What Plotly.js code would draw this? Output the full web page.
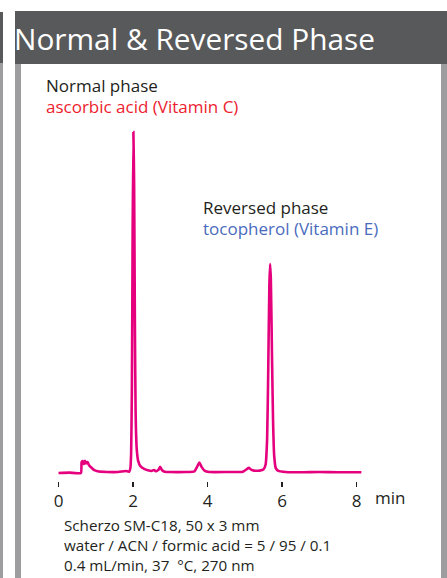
<!DOCTYPE html>
<html>
<head>
<meta charset="utf-8">
<script src="https://cdn.plot.ly/plotly-3.0.1.min.js"></script>
<style>html,body{margin:0;padding:0;background:#fff;}#chart{width:447px;height:578px;}</style>
</head>
<body>
<div id="chart"></div>
<script>
// Retention time (min) and detector response (relative, tallest peak = 100)
const timeMin = [0, 0.3, 0.6, 0.62, 0.65, 0.68, 0.71, 0.74, 0.78, 0.82, 0.88, 0.95, 1.05, 1.3, 1.6, 1.8, 1.9,
  1.93, 1.95, 1.97, 1.99, 2.01, 2.03, 2.05, 2.07, 2.10, 2.14, 2.20, 2.30, 2.40, 2.50, 2.56, 2.62, 2.68, 2.73, 2.78,
  2.85, 3.0, 3.4, 3.65, 3.72, 3.78, 3.84, 3.92, 4.05, 4.5, 4.95, 5.05, 5.11, 5.17, 5.25, 5.40, 5.50, 5.56, 5.60,
  5.63, 5.66, 5.68, 5.70, 5.73, 5.76, 5.79, 5.83, 5.90, 6.1, 6.5, 7.0, 7.5, 8.13];
const response = [0, 0.1, 0, 3.2, 3.5, 2.6, 3.6, 2.8, 3.2, 2.3, 1.6, 0.9, 0.5, 0.3, 0.3, 0.6, 0.4,
  1.5, 6, 25, 70, 100, 85, 45, 18, 7, 3.5, 2, 1.2, 0.8, 0.6, 0.9, 0.5, 0.9, 1.8, 0.8,
  0.4, 0.3, 0.3, 0.5, 1.8, 3.1, 1.8, 0.7, 0.3, 0.3, 0.4, 1.1, 1.5, 1.0, 0.7, 0.7, 1.0, 2.5, 10,
  30, 55, 61.3, 57, 35, 15, 5, 1.5, 0.6, 0.3, 0.2, 0.3, 0.2, 0.2];
const tickVals = [0, 2, 4, 6, 8];
const tickText = ['0', '2', '4', '6', '8'];
const titleText = 'Normal &amp; Reversed Phase';
const peakHeads = ['Normal phase', 'Reversed phase'];
const peakNames = ['ascorbic acid (Vitamin C)', 'tocopherol (Vitamin E)'];
const peakColors = ['#ed1c2e', '#4a6bbd'];
const conditions = ['Scherzo SM-C18, 50 x 3 mm', 'water / ACN / formic acid = 5 / 95 / 0.1', '0.4 mL/min, 37  \u00b0C, 270 nm'];
const unitLabel = 'min';

const W = 447, H = 578;
const px = x => x / W;
const py = y => 1 - y / H;
const FONT = 'Open Sans, Noto Sans, sans-serif';
const DARK = '#231f20';

function rect(x0, y0, x1, y1, color) {
  return {type: 'rect', xref: 'paper', yref: 'paper', x0: px(x0), x1: px(x1), y0: py(y1), y1: py(y0),
    fillcolor: color, line: {width: 0}, layer: 'below'};
}
function note(text, x, y, size, color) {
  return {xref: 'paper', yref: 'paper', x: px(x), y: py(y), text: text, showarrow: false,
    xanchor: 'left', yanchor: 'middle', align: 'left', font: {family: FONT, size: size, color: color}};
}
// line spacing follows the annotation font size; glyph size set by the span
function sized(text, size, color) {
  return '<span style="font-size:' + size + 'px' + (color ? ';color:' + color : '') + '">' + text + '</span>';
}

const shapes = [
  rect(0, 12, 3, 63, '#58595b'),
  rect(0, 63, 3, 578, '#9d9d9f'),
  rect(15, 11, 447, 64, '#58595b'),
  rect(15, 64, 21, 578, '#9d9d9f'),
  rect(441, 64, 447, 578, '#9d9d9f')
];

const annotations = [
  note(titleText, 12, 38, 29.8, '#ffffff'),
  note(sized(peakHeads[0], 17) + '<br>' + sized(peakNames[0], 17, peakColors[0]), 44, 95.5, 16.3, DARK),
  note(sized(peakHeads[1], 17) + '<br>' + sized(peakNames[1], 17, peakColors[1]), 201, 218, 16.3, DARK),
  note(unitLabel, 373, 497, 17, DARK),
  note(conditions.join('<br>'), 62, 545.4, 15.2, DARK)
];

const trace = {x: timeMin, y: response, type: 'scatter', mode: 'lines',
  line: {color: '#e5007e', width: 2.6, shape: 'spline', smoothing: 0.5}, hoverinfo: 'skip'};

const layout = {
  width: W, height: H, margin: {l: 0, r: 0, t: 0, b: 0},
  paper_bgcolor: '#ffffff', plot_bgcolor: 'rgba(0,0,0,0)', showlegend: false,
  font: {family: FONT, color: DARK},
  xaxis: {domain: [51.05 / W, 367.7 / W], range: [-0.2, 8.3], showgrid: false, zeroline: false, showline: false,
    ticks: 'outside', ticklen: 5, tickwidth: 1.5, tickcolor: DARK, tickvals: tickVals, ticktext: tickText,
    tickfont: {family: FONT, size: 17, color: DARK}, fixedrange: true},
  yaxis: {domain: [py(481), py(110)], range: [-2.346, 106.45], visible: false, fixedrange: true},
  shapes: shapes,
  annotations: annotations
};

Plotly.newPlot('chart', [trace], layout, {displayModeBar: false, staticPlot: true});
</script>
</body>
</html>
